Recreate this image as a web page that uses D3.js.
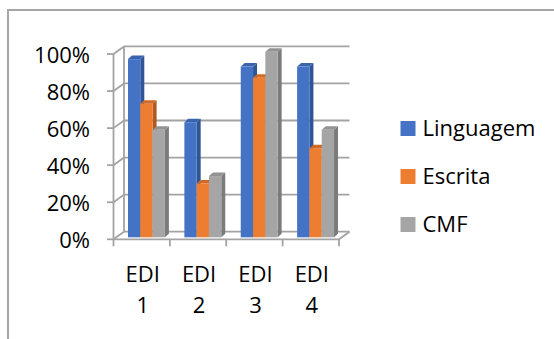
<!DOCTYPE html>
<html>
<head>
<meta charset="utf-8">
<script src="https://cdn.jsdelivr.net/npm/d3@7"></script>
<style>
  html, body { margin: 0; padding: 0; background: #fff; }
  svg { display: block; }
  text { font-family: "Open Sans", sans-serif; fill: #000; }
</style>
</head>
<body>
<svg id="chart" width="554" height="339"></svg>
<script>
// Data
const categories = ["EDI 1", "EDI 2", "EDI 3", "EDI 4"];
const seriesNames = ["Linguagem", "Escrita", "CMF"];
const linguagem = [96, 62, 92, 92];
const escrita = [72, 29, 86, 48];
const cmf = [58, 33, 100, 58];
const yTicks = [0, 20, 40, 60, 80, 100];

const seriesValues = [linguagem, escrita, cmf];
const colors = {
  front: ["#4472C4", "#ED7D31", "#A5A5A5"],
  side:  ["#2F5597", "#AE5A21", "#7B7B7B"],
  top:   ["#3A63AE", "#D06A27", "#929292"]
};
const fontSize = 22;

const svg = d3.select("#chart");

// Outer chart frame (continues past right/bottom edges)
svg.append("path")
  .attr("d", "M8,345 L8,10 L560,10")
  .attr("fill", "none")
  .attr("stroke", "#a6a6a6")
  .attr("stroke-width", 2);

// 3D box geometry
const axisX = 113.5;
const rightX = 339;
const wall = { dx: 10.5, dy: -7.6 };
const yFront = d3.scaleLinear().domain([0, 100]).range([239.3, 54]);
const yBack = v => yFront(v) + wall.dy;

const gridColor = "#a3a3a3";
const grid = svg.append("g")
  .attr("fill", "none")
  .attr("stroke", gridColor)
  .attr("stroke-width", 1.8);

// Back wall gridlines
grid.selectAll(".gl").data(yTicks).join("line")
  .attr("x1", axisX + wall.dx).attr("x2", rightX + wall.dx)
  .attr("y1", d => yBack(d)).attr("y2", d => yBack(d));

// Left wall diagonals
grid.selectAll(".dg").data(yTicks).join("line")
  .attr("x1", axisX).attr("y1", d => yFront(d))
  .attr("x2", axisX + wall.dx).attr("y2", d => yBack(d));

// Back wall left edge
grid.append("line")
  .attr("x1", axisX + wall.dx).attr("x2", axisX + wall.dx)
  .attr("y1", yBack(0)).attr("y2", yBack(100));

// Floor: front edge and right diagonal
grid.append("path")
  .attr("d", `M${axisX},${yFront(0)} L${rightX},${yFront(0)} L${rightX + wall.dx},${yBack(0)}`);

// Front vertical axis with ticks
grid.append("line")
  .attr("x1", axisX).attr("x2", axisX)
  .attr("y1", yFront(0)).attr("y2", yFront(100));
grid.selectAll(".tk").data(yTicks).join("line")
  .attr("x1", axisX - 6.5).attr("x2", axisX)
  .attr("y1", d => yFront(d)).attr("y2", d => yFront(d));

// Category scale and ticks under floor
const xCat = d3.scaleBand().domain(categories).range([axisX, rightX]);
const catEdges = categories.map(c => xCat(c)).concat([rightX]);
grid.selectAll(".ct").data(catEdges).join("line")
  .attr("x1", d => d).attr("x2", d => d)
  .attr("y1", yFront(0)).attr("y2", yFront(0) + 7);

// Y labels
svg.append("g").selectAll("text").data(yTicks).join("text")
  .attr("x", 90)
  .attr("y", d => yFront(d) + 9)
  .attr("text-anchor", "end")
  .attr("font-size", fontSize)
  .text(d => d + "%");

// Category labels (two lines)
const catLabels = svg.append("g").selectAll("text").data(categories).join("text")
  .attr("text-anchor", "middle")
  .attr("font-size", fontSize);
catLabels.each(function (d) {
  const parts = d.split(" ");
  const cx = xCat(d) + xCat.bandwidth() / 2 + 1;
  d3.select(this).selectAll("tspan").data(parts).join("tspan")
    .attr("x", cx)
    .attr("y", (p, i) => 282 + i * 31)
    .text(p => p);
});

// Bars, set slightly behind the front plane
const yBar = d3.scaleLinear().domain([0, 100]).range([237.3, 51.7]);
const xSer = d3.scaleBand().domain(seriesNames).range([14.5, 14.5 + 36.9]);
const bd = { dx: 4, dy: -3.5 };

const barsG = svg.append("g");
categories.forEach((cat, ci) => {
  seriesNames.forEach((s, si) => {
    const v = seriesValues[si][ci];
    const x0 = xCat(cat) + xSer(s);
    const w = xSer.bandwidth();
    const yt = yBar(v);
    const yb = yBar(0);
    const g = barsG.append("g");
    // side face
    g.append("path")
      .attr("d", `M${x0 + w},${yb} L${x0 + w},${yt} L${x0 + w + bd.dx},${yt + bd.dy} L${x0 + w + bd.dx},${yb + bd.dy} Z`)
      .attr("fill", colors.side[si]);
    // top face
    g.append("path")
      .attr("d", `M${x0},${yt} L${x0 + w},${yt} L${x0 + w + bd.dx},${yt + bd.dy} L${x0 + bd.dx},${yt + bd.dy} Z`)
      .attr("fill", colors.top[si]);
    // front face
    g.append("rect")
      .attr("x", x0).attr("y", yt)
      .attr("width", w).attr("height", yb - yt)
      .attr("fill", colors.front[si]);
  });
});

// Legend
const legend = svg.append("g").selectAll("g").data(seriesNames).join("g")
  .attr("transform", (d, i) => `translate(400.5, ${136 + i * 48})`);
legend.append("rect")
  .attr("x", 0).attr("y", -15)
  .attr("width", 15).attr("height", 15)
  .attr("fill", (d, i) => colors.front[i]);
legend.append("text")
  .attr("x", 22)
  .attr("y", 0)
  .attr("font-size", fontSize)
  .text(d => d);
</script>
</body>
</html>
